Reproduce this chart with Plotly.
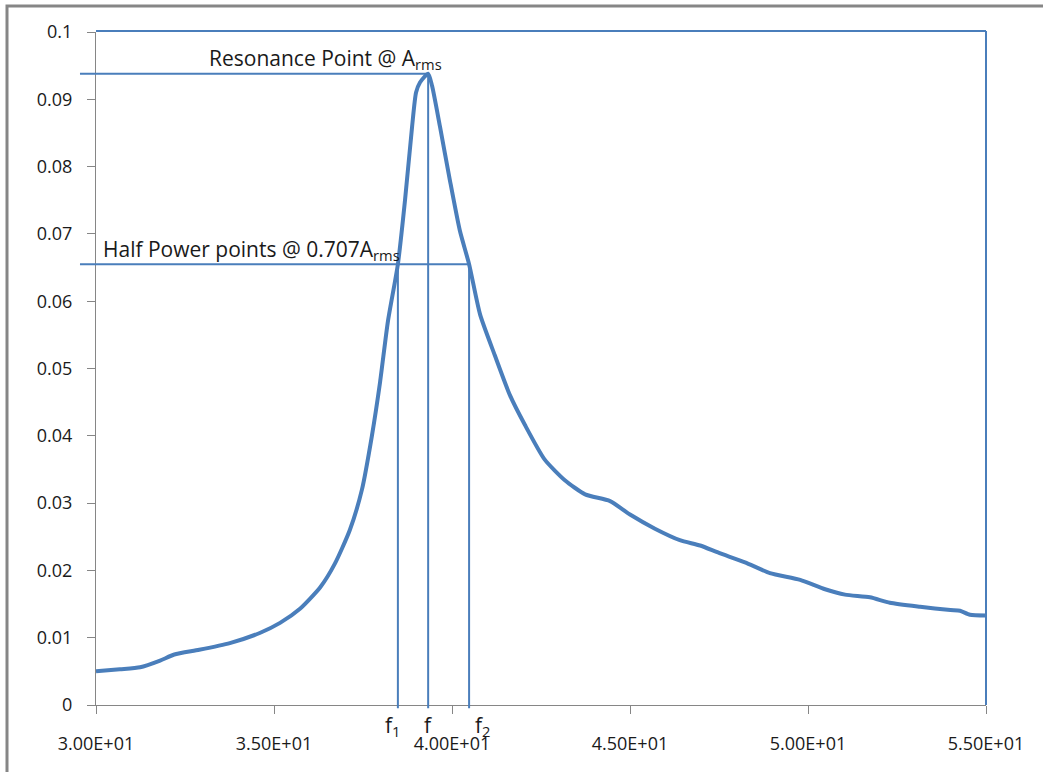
import plotly.graph_objects as go

# Frequency response: amplitude vs frequency
freq = [30.0, 30.67, 31.24, 31.8, 32.2, 32.9, 33.76, 34.6, 35.17, 35.73, 36.3, 36.71,
        37.13, 37.47, 37.75, 37.98, 38.2, 38.48, 38.68, 38.88, 38.99, 39.1, 39.33,
        39.44, 39.66, 39.94, 40.22, 40.48, 40.79, 41.2, 41.63, 42.05, 42.6, 43.17,
        43.74, 44.44, 45.0, 45.7, 46.4, 46.97, 47.5, 48.23, 48.93, 49.78, 50.48,
        51.04, 51.74, 52.3, 53.15, 54.0, 54.27, 54.55, 55.0]
amp = [0.0050, 0.0053, 0.0056, 0.0066, 0.0075, 0.0082, 0.0092, 0.0107, 0.0122,
       0.0143, 0.0175, 0.0210, 0.0260, 0.0320, 0.0400, 0.0480, 0.0570, 0.0655,
       0.0750, 0.0860, 0.0910, 0.0925, 0.0938, 0.0920, 0.0860, 0.0780, 0.0705,
       0.0655, 0.0580, 0.0520, 0.0460, 0.0416, 0.0365, 0.0334, 0.0313, 0.0303,
       0.0283, 0.0262, 0.0245, 0.0237, 0.0226, 0.0212, 0.0196, 0.0186, 0.0172,
       0.0164, 0.0160, 0.0152, 0.0146, 0.0141, 0.0140, 0.0134, 0.0133]

f_res = 39.33
a_res = 0.0938
f1 = 38.48
f2 = 40.48
a_half = 0.0655

x_ticks = [30, 35, 40, 45, 50, 55]
x_tick_text = ["3.00E+01", "3.50E+01", "4.00E+01", "4.50E+01", "5.00E+01", "5.50E+01"]
y_ticks = [0, 0.01, 0.02, 0.03, 0.04, 0.05, 0.06, 0.07, 0.08, 0.09, 0.1]
y_tick_text = ["0", "0.01", "0.02", "0.03", "0.04", "0.05", "0.06", "0.07", "0.08", "0.09", "0.1"]

blue = "#4a7ebb"
gray = "#868686"
font = "Open Sans"

fig = go.Figure()
fig.add_trace(go.Scatter(x=freq, y=amp, mode="lines",
                         line=dict(color=blue, width=4, shape="spline", smoothing=0.6),
                         showlegend=False, hoverinfo="skip"))

# marker lines for resonance and half-power points (paper x so they can start left of the axis)
x0, x1 = 30.0, 55.0
def xp(v):
    return (v - x0) / (x1 - x0)

shapes = [
    dict(type="line", xref="paper", yref="y", x0=-0.018, x1=xp(f_res), y0=a_res, y1=a_res,
         line=dict(color=blue, width=2)),
    dict(type="line", xref="paper", yref="y", x0=-0.018, x1=xp(f2), y0=a_half, y1=a_half,
         line=dict(color=blue, width=2)),
    dict(type="line", xref="x", yref="paper", x0=f1, x1=f1, y0=-0.005, y1=a_half / 0.1,
         line=dict(color=blue, width=2)),
    dict(type="line", xref="x", yref="paper", x0=f_res, x1=f_res, y0=-0.005, y1=a_res / 0.1,
         line=dict(color=blue, width=2)),
    dict(type="line", xref="x", yref="paper", x0=f2, x1=f2, y0=-0.005, y1=a_half / 0.1,
         line=dict(color=blue, width=2)),
    # top and right edges of plot area
    dict(type="line", xref="paper", yref="paper", x0=0, x1=1, y0=1.0015, y1=1.0015,
         line=dict(color=blue, width=2)),
    dict(type="line", xref="paper", yref="paper", x0=1, x1=1, y0=0, y1=1.0015,
         line=dict(color=blue, width=2)),
    # chart frame
    dict(type="rect", xref="paper", yref="paper", x0=-0.1, x1=1.2, y0=-0.3, y1=1.0386,
         line=dict(color=gray, width=3)),
]

txt = dict(family=font, size=21, color="#1a1a1a")
annotations = [
    dict(text="Resonance Point @ A<sub>rms</sub>", xref="x", yref="y", x=f_res + 0.45, y=a_res - 0.0004,
         xanchor="right", yanchor="bottom", showarrow=False, font=txt),
    dict(text="Half Power points @ 0.707A<sub>rms</sub>", xref="paper", yref="y", x=0.006, y=a_half - 0.0004,
         xanchor="left", yanchor="bottom", showarrow=False, font=txt),
    dict(text="f<sub>1</sub>", xref="x", yref="paper", x=f1 - 0.15, y=-0.006, xanchor="center",
         yanchor="top", showarrow=False, font=txt),
    dict(text="f", xref="x", yref="paper", x=f_res, y=-0.006, xanchor="center",
         yanchor="top", showarrow=False, font=txt),
    dict(text="f<sub>2</sub>", xref="x", yref="paper", x=f2 + 0.1, y=-0.006, xanchor="left",
         yanchor="top", showarrow=False, font=txt),
]

fig.update_layout(
    width=1043, height=772,
    margin=dict(l=96, r=57, t=32, b=67),
    paper_bgcolor="white", plot_bgcolor="white",
    shapes=shapes, annotations=annotations,
    font=dict(family=font, size=18, color="#1a1a1a"),
    xaxis=dict(range=[x0, x1], tickvals=x_ticks, ticktext=x_tick_text,
               showgrid=False, zeroline=False, showline=True, linecolor=gray, linewidth=1,
               ticks="outside", ticklen=8, tickcolor=gray, tickfont=dict(size=18),
               ticklabelstandoff=14),
    yaxis=dict(range=[0, 0.1], tickvals=y_ticks, ticktext=y_tick_text,
               showgrid=False, zeroline=False, showline=True, linecolor=gray, linewidth=1,
               ticks="outside", ticklen=8, tickcolor=gray, tickfont=dict(size=18),
               ticklabelstandoff=11),
)

fig.write_html("out.html")
